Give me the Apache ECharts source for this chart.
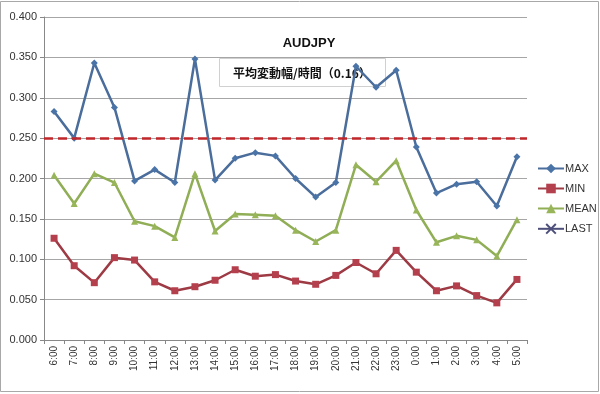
<!DOCTYPE html>
<html><head><meta charset="utf-8">
<script src="https://cdn.jsdelivr.net/npm/echarts@6/dist/echarts.min.js"></script>
<style>html,body{margin:0;padding:0;background:#fff}#c{width:600px;height:394px}</style>
</head><body><div id="c"></div>
<script>
const categories = ['6:00','7:00','8:00','9:00','10:00','11:00','12:00','13:00','14:00','15:00','16:00','17:00','18:00','19:00','20:00','21:00','22:00','23:00','0:00','1:00','2:00','3:00','4:00','5:00'];
const maxVals  = [0.283,0.250,0.343,0.288,0.197,0.211,0.195,0.348,0.198,0.225,0.232,0.228,0.200,0.177,0.195,0.339,0.313,0.334,0.239,0.182,0.193,0.196,0.166,0.227];
const minVals  = [0.126,0.092,0.071,0.102,0.099,0.072,0.061,0.066,0.074,0.087,0.079,0.081,0.073,0.069,0.080,0.096,0.082,0.111,0.084,0.061,0.067,0.055,0.046,0.075];
const meanVals = [0.204,0.169,0.206,0.195,0.147,0.141,0.127,0.206,0.135,0.156,0.155,0.154,0.136,0.122,0.136,0.217,0.196,0.222,0.161,0.121,0.129,0.124,0.104,0.149];
const lastVals = categories.map(() => null);
const thresholdValue = 0.25;
const titleText = 'AUDJPY';
const boxText = '平均変動幅/時間（0.16）';

const chart = echarts.init(document.getElementById('c'), null, {renderer:'canvas'});
const font = 'Liberation Sans, Arial, sans-serif';
chart.setOption({
  animation:false,
  backgroundColor:'#fff',
  grid:{left:44, right:73, top:17, bottom:54},
  title:{text:titleText, left:304, top:32, textAlign:'center',
    textStyle:{fontFamily:font, fontSize:13, fontWeight:'bold', color:'#111'}},
  graphic:{z:1, elements:[
    {type:'rect', shape:{x:0.5,y:1.5,width:598,height:390}, style:{fill:'none', stroke:'#a8a8a8', lineWidth:1}},
    {type:'rect', shape:{x:219.5,y:58.5,width:166,height:28}, style:{fill:'#fff', stroke:'#d0d0d0', lineWidth:1}},
    {type:'text', x:302, y:73, style:{text:boxText, fill:'#111', font:'bold 12px "Noto Sans CJK JP", sans-serif', textAlign:'center', textVerticalAlign:'middle'}}
  ]},
  legend:{orient:'vertical', left:532, top:158, itemGap:9, itemWidth:26, itemHeight:12,
    textStyle:{fontFamily:font, fontSize:11, color:'#333', padding:[0,0,0,-4]},
    data:['MAX','MIN','MEAN','LAST']},
  xAxis:{type:'category', data:categories, boundaryGap:true,
    axisLine:{lineStyle:{color:'#888'}},
    axisTick:{show:true, length:4, lineStyle:{color:'#888'}},
    axisLabel:{rotate:90, fontFamily:font, fontSize:10, color:'#333', margin:6, interval:0}},
  yAxis:{type:'value', min:0, max:0.4, interval:0.05,
    axisLine:{show:true, lineStyle:{color:'#888'}},
    axisTick:{show:true, length:4, lineStyle:{color:'#888'}},
    splitLine:{lineStyle:{color:'#a6a6a6'}},
    axisLabel:{formatter:v=>v.toFixed(3), fontFamily:font, fontSize:11, color:'#333', margin:7}},
  series:[
    {name:'MAX', type:'line', data:maxVals, symbol:'diamond', symbolSize:7,
      lineStyle:{color:'#4a6d9c', width:2.5}, itemStyle:{color:'#4a74a8'}, z:4},
    {name:'MIN', type:'line', data:minVals, symbol:'rect', symbolSize:7,
      lineStyle:{color:'#9e3a44', width:2.5}, itemStyle:{color:'#b5404d'}, z:4},
    {name:'MEAN', type:'line', data:meanVals, symbol:'triangle', symbolSize:7,
      lineStyle:{color:'#8fae55', width:2.5}, itemStyle:{color:'#98b55a'}, z:4},
    {name:'LAST', type:'line', data:lastVals, symbol:'path://M0,0L10,10M10,0L0,10', symbolSize:8,
      lineStyle:{color:'#4d4f7a', width:2.5}, itemStyle:{color:'#4d4f7a', borderColor:'#4d4f7a', borderWidth:1.5},
      markLine:{silent:true, symbol:'none', label:{show:false},
        lineStyle:{color:'#c0262a', type:[9,5], width:2.5},
        data:[{yAxis:thresholdValue}]}, z:3}
  ]
});
</script></body></html>
